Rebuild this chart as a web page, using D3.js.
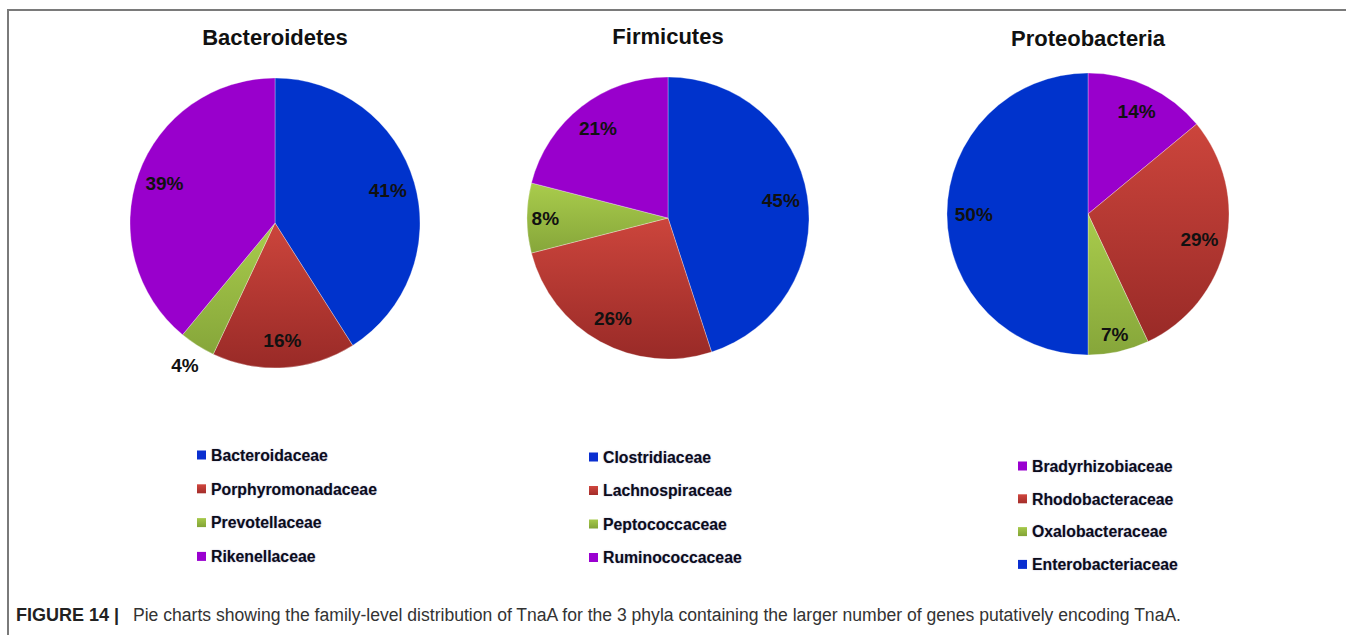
<!DOCTYPE html>
<html>
<head>
<meta charset="utf-8">
<script src="https://cdn.jsdelivr.net/npm/d3@7"></script>
<style>
  html, body { margin: 0; padding: 0; background: #fff; }
  svg { display: block; }
</style>
</head>
<body>
<svg id="chart" width="1346" height="635"></svg>
<script>
// ---- data ----
const phyla = ["Bacteroidetes", "Firmicutes", "Proteobacteria"];

const bacteroidetesFamilies = ["Bacteroidaceae", "Porphyromonadaceae", "Prevotellaceae", "Rikenellaceae"];
const bacteroidetesValues = [41, 16, 4, 39];

const firmicutesFamilies = ["Clostridiaceae", "Lachnospiraceae", "Peptococcaceae", "Ruminococcaceae"];
const firmicutesValues = [45, 26, 8, 21];

const proteobacteriaFamilies = ["Bradyrhizobiaceae", "Rhodobacteraceae", "Oxalobacteraceae", "Enterobacteriaceae"];
const proteobacteriaValues = [14, 29, 7, 50];

const captionLead = "FIGURE 14 |";
const captionText = "Pie charts showing the family-level distribution of TnaA for the 3 phyla containing the larger number of genes putatively encoding TnaA.";

// ---- styles / layout ----
const colorKeys = [
  ["blue", "red", "green", "purple"],
  ["blue", "red", "green", "purple"],
  ["purple", "red", "green", "blue"]
];
const layout = [
  { cx: 275, cy: 223, r: 145, titleY: 45, legX: 197, legY: 455, legStep: 33.8 },
  { cx: 668, cy: 218, r: 141, titleY: 44, legX: 589, legY: 457, legStep: 33.5 },
  { cx: 1088, cy: 214, r: 141, titleY: 46, legX: 1018, legY: 466, legStep: 32.8 }
];

const svg = d3.select("#chart");
const defs = svg.append("defs");

function vGrad(id, top, bottom) {
  const g = defs.append("linearGradient").attr("id", id)
    .attr("x1", 0).attr("y1", 0).attr("x2", 0).attr("y2", 1);
  g.append("stop").attr("offset", "0%").attr("stop-color", top);
  g.append("stop").attr("offset", "100%").attr("stop-color", bottom);
}
vGrad("gRed", "#cc453c", "#992a27");
vGrad("gGreen", "#a9cc4c", "#86a63a");
vGrad("lRed", "#d0463e", "#a32d2a");
vGrad("lGreen", "#a6c94a", "#82a336");

const fills = { blue: "#0033cc", purple: "#9900cc", red: "url(#gRed)", green: "url(#gGreen)" };
const legendFills = { blue: "#0a2fd0", purple: "#9a00d0", red: "url(#lRed)", green: "url(#lGreen)" };

// frame
svg.append("line").attr("x1", 8).attr("x2", 1346).attr("y1", 10).attr("y2", 10)
  .attr("stroke", "#7a7a7a").attr("stroke-width", 2);
svg.append("line").attr("x1", 8).attr("x2", 8).attr("y1", 9).attr("y2", 635)
  .attr("stroke", "#7a7a7a").attr("stroke-width", 2);

const datasets = [
  { families: bacteroidetesFamilies, values: bacteroidetesValues },
  { families: firmicutesFamilies, values: firmicutesValues },
  { families: proteobacteriaFamilies, values: proteobacteriaValues }
];

const pie = d3.pie().sort(null).value(d => d.value);

datasets.forEach((ds, i) => {
  const L = layout[i];
  const data = ds.families.map((f, j) => ({ family: f, value: ds.values[j], key: colorKeys[i][j] }));
  const color = d3.scaleOrdinal().domain(ds.families).range(colorKeys[i].map(k => fills[k]));
  const legColor = d3.scaleOrdinal().domain(ds.families).range(colorKeys[i].map(k => legendFills[k]));

  const g = svg.append("g").attr("transform", `translate(${L.cx},${L.cy})`);
  const arc = d3.arc().innerRadius(0).outerRadius(L.r);
  const arcs = pie(data);

  g.selectAll("path").data(arcs).join("path")
    .attr("d", arc)
    .attr("fill", d => color(d.data.family))
    .attr("stroke", "#ffffff").attr("stroke-width", 0.6).attr("stroke-opacity", 0.5);

  g.selectAll("text.pct").data(arcs).join("text")
    .attr("class", "pct")
    .attr("transform", d => {
      const v = d.data.value;
      const f = v < 5 ? 1.16 : (v < 10 ? 0.87 : 0.81);
      const la = d3.arc().innerRadius(L.r * f).outerRadius(L.r * f);
      const [x, y] = la.centroid(d);
      return `translate(${x},${y})`;
    })
    .attr("text-anchor", "middle")
    .attr("dy", "0.36em")
    .attr("font-family", "'Liberation Sans Narrow', 'Arial Narrow', sans-serif")
    .attr("font-weight", "bold")
    .attr("font-size", 19)
    .attr("fill", "#111")
    .text(d => d.data.value + "%");

  // title
  svg.append("text")
    .attr("x", L.cx).attr("y", L.titleY)
    .attr("text-anchor", "middle")
    .attr("font-family", "'Liberation Sans', Arial, sans-serif")
    .attr("font-weight", "bold")
    .attr("font-size", 22)
    .attr("fill", "#111")
    .text(phyla[i]);

  // legend
  const lg = svg.append("g").attr("transform", `translate(${L.legX},${L.legY})`);
  const rows = lg.selectAll("g").data(data).join("g")
    .attr("transform", (d, j) => `translate(0,${j * L.legStep})`);
  rows.append("rect").attr("x", 0).attr("y", -4.5).attr("width", 9).attr("height", 9)
    .attr("fill", d => legColor(d.family));
  rows.append("text").attr("x", 14).attr("y", 0).attr("dy", "0.36em")
    .attr("font-family", "'Liberation Sans', Arial, sans-serif")
    .attr("font-weight", "bold").attr("font-size", 15.8)
    .attr("fill", "#0c0c1c")
    .style("text-shadow", "0 0 1.5px rgba(40,40,120,0.4)")
    .text(d => d.family);
});

// caption
svg.append("text")
  .attr("x", 16).attr("y", 621)
  .attr("font-family", "'Liberation Sans', Arial, sans-serif")
  .attr("font-weight", "bold").attr("font-size", 18)
  .attr("fill", "#222")
  .text(captionLead);
svg.append("text")
  .attr("x", 133).attr("y", 621)
  .attr("font-family", "'Liberation Sans', Arial, sans-serif")
  .attr("font-size", 18)
  .attr("fill", "#333")
  .attr("textLength", 1048).attr("lengthAdjust", "spacingAndGlyphs")
  .text(captionText);
</script>
</body>
</html>
